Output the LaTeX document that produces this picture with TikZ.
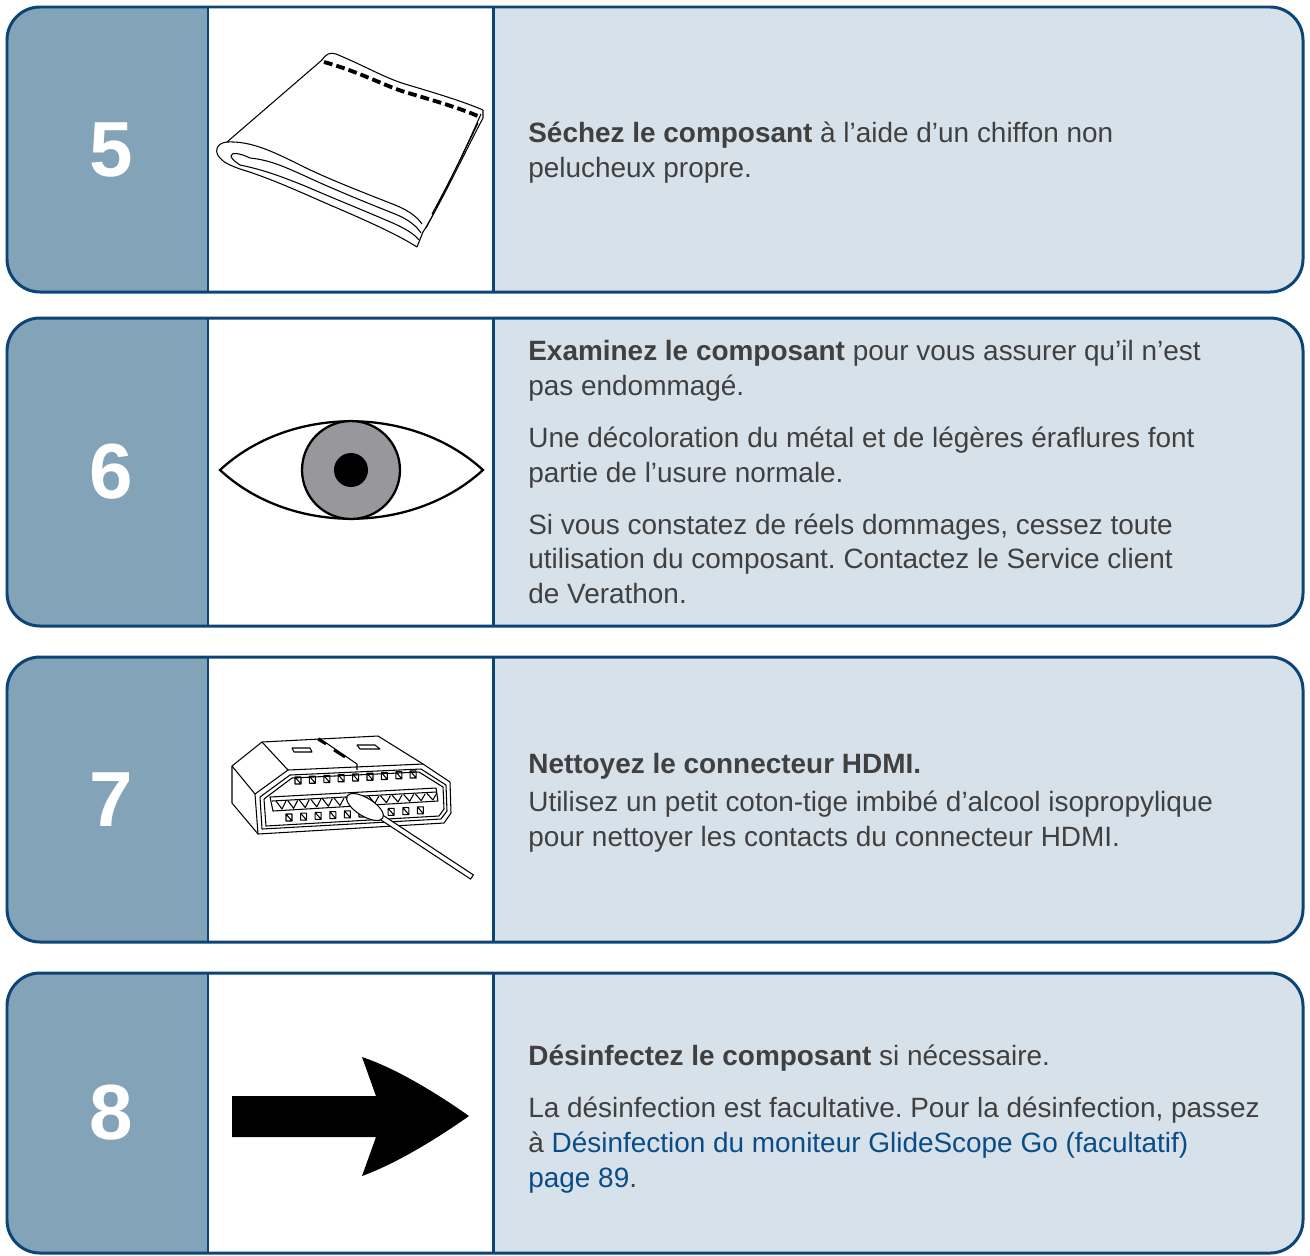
\documentclass[tikz,border=0pt]{standalone}
\usepackage{fontspec}
\setmainfont{Liberation Sans}
\usetikzlibrary{calc}

\definecolor{stepblue}{HTML}{82A3B8}
\definecolor{textpane}{HTML}{D7E1EA}
\definecolor{rimblue}{HTML}{0D4477}
\definecolor{bodygray}{HTML}{404040}
\definecolor{linkblue}{HTML}{0B4C86}
\definecolor{irisgray}{HTML}{98989C}

\tikzset{
  stepnum/.style={text=white, inner sep=0pt, font=\fontsize{44.5}{45}\selectfont\bfseries},
  steptext/.style={anchor=west, align=left, inner sep=0pt, text=bodygray,
    font=\fontsize{15.9}{19.9}\selectfont\frenchspacing},
  rim/.style={draw=rimblue, line width=1.7pt},
  ink/.style={line width=0.6pt, line join=round},
}
\newcommand{\link}[1]{\textcolor{linkblue}{#1}}

\begin{document}
\begin{tikzpicture}[x=0.02cm, y=-0.02cm]
\useasboundingbox (0,0) rectangle (1310,1255);

% the four step cards
\foreach \n/\t/\b in {5/7/292, 6/318/626, 7/657/942, 8/973/1253} {
  \fill[textpane, rounded corners=0.66cm] (7,\t) rectangle (1303,\b);
  \fill[stepblue, rounded corners=0.66cm] (7,\t) rectangle (300,\b);
  \fill[white] (208,\t) rectangle (493,\b);
  \draw[rim, rounded corners=0.66cm] (7,\t) rectangle (1303,\b);
  \draw[rim] (208,\t) -- (208,\b) (493,\t) -- (493,\b);
  \node[stepnum] (num\n) at (111,{(\t+\b)/2}) {\n};
}

% step 5: folded cloth
\draw[ink] (227,142) -- (322,60) .. controls (326,54) and (330,52) .. (336,54)
  .. controls (365,66) and (385,78) .. (405,84) .. controls (435,93) and (462,101) .. (483,110);
\draw[line width=2.2pt, dash pattern=on 5pt off 2.3pt] (324,62) .. controls (360,72) and (385,86) .. (405,92)
  .. controls (435,101) and (460,108) .. (480,117);
\draw[ink] (483,110) -- (483,118) .. controls (465,152) and (440,205) .. (423,232) -- (417,247);
\draw[ink] (481,114) .. controls (466,148) and (446,190) .. (426,228);
\draw[ink] (478,123) .. controls (465,150) and (448,185) .. (432,214);
\draw[ink] (227,142) .. controls (250,141) and (270,150) .. (300,165)
  .. controls (330,180) and (370,195) .. (395,205) .. controls (410,211) and (418,218) .. (422,224);
\draw[ink] (250,158) .. controls (270,160) and (285,167) .. (305,176)
  .. controls (335,190) and (370,204) .. (395,214) .. controls (410,220) and (417,227) .. (421,233);
\draw[ink] (240,165) .. controls (265,170) and (285,178) .. (305,186)
  .. controls (335,199) and (370,213) .. (395,224) .. controls (408,230) and (415,235) .. (419,240);
\draw[ink] (227,142) .. controls (216,143) and (214,152) .. (220,158)
  .. controls (224,163) and (232,166) .. (240,169) .. controls (270,178) and (300,192) .. (330,205)
  .. controls (370,222) and (400,236) .. (417,247);
\draw[ink] (250,158) .. controls (240,153) and (231,152) .. (231,156) .. controls (232,160) and (236,162) .. (240,165);

% step 6: eye
\draw[line width=1.3pt, line join=miter] (220,470) .. controls (290,405) and (412,405) .. (483,470)
  .. controls (412,535) and (290,535) .. (220,470) -- cycle;
\draw[line width=1.3pt, fill=irisgray] (351,470) circle [radius=0.98cm];
\fill (351,470) circle [radius=0.34cm];

% step 7: connector body
\draw[ink, fill=white] (262,742) -- (378,736) -- (423,764) -- (450,782) -- (451,813) -- (444,823)
  -- (258,834) -- (232,803) -- (232,766) -- cycle;
\draw[ink] (232,766) -- (255,794) -- (258,834);
\draw[ink] (262,742) -- (288,770);
\draw[ink] (255,794) -- (288,770) -- (423,764);
\draw[ink] (260,797) -- (290,775) -- (421,769) -- (446,785) -- (447,811) -- (441,819) -- (262,829) -- cycle;
\draw[ink] (264,799) -- (292,778) -- (419,772) -- (443,787) -- (444,809) -- (439,816) -- (266,826) -- cycle;
% top face details
\draw[ink] (292,748) -- (310,748) -- (312,752) -- (294,752) -- cycle;
\draw[ink] (357,745) -- (375,745) -- (380,749) -- (360,749) -- cycle;
\draw[ink] (319,738) -- (357,764) -- (357,770);
\draw[line width=1.6pt] (318,739) -- (326,744) (334,750) -- (345,757);
% contact rows
\foreach \i in {0,...,8}
  \draw[ink] ({295+14.4*\i},{777-0.75*\i}) rectangle +(6,7) +(0,0) -- +(6,7);
\draw[ink, fill=white] (270,797) -- (436,788) -- (438,801) -- (273,811) -- cycle;
\draw[ink] (272,801) -- (436,792);
\foreach \i in {0,...,13}
  \draw[ink] ({276+11.6*\i},{801-0.6*\i}) -- ({282+11.6*\i},{809-0.7*\i}) -- ({286+11.6*\i},{801-0.6*\i});
\foreach \i in {0,...,9}
  \draw[ink] ({286+14.6*\i},{814-0.8*\i}) rectangle +(6,7) +(0,0) -- +(6,7);
% swab
\draw[ink, fill=white] (373.6,815.1) -- (470.6,879.1) -- (473.4,874.9) -- (376.4,810.9) -- cycle;
\draw[ink, fill=white, rotate around={-32:(365,807)}] (365,807) ellipse [x radius=0.42cm, y radius=0.18cm];

% step 8: arrow
\fill (232,1096) -- (376,1096) -- (362,1057) .. controls (395,1068) and (435,1092) .. (469,1116)
  .. controls (435,1140) and (395,1164) .. (362,1176) -- (376,1137) -- (232,1137) -- cycle;

% step texts
\node[steptext] (txt5) at (528,153) {\textbf{Séchez le composant} à l’aide d’un chiffon non\\pelucheux propre.};
\node[steptext] (txt6) at (528,472) {\textbf{Examinez le composant} pour vous assurer qu’il n’est\\pas endommagé.\\[9.7pt]
  Une décoloration du métal et de légères éraflures font\\partie de l’usure normale.\\[9.7pt]
  Si vous constatez de réels dommages, cessez toute\\utilisation du composant. Contactez le Service client\\de Verathon.};
\node[steptext] (txt7) at (528,803) {\textbf{Nettoyez le connecteur HDMI.}\\[1.7pt]
  Utilisez un petit coton-tige imbibé d’alcool isopropylique\\pour nettoyer les contacts du connecteur HDMI.};
\node[steptext] (txt8) at (528,1119) {\textbf{Désinfectez le composant} si nécessaire.\\[9.7pt]
  La désinfection est facultative. Pour la désinfection, passez\\
  à \link{Désinfection du moniteur GlideScope Go (facultatif)}\\\link{page 89}.};
\end{tikzpicture}
\end{document}
